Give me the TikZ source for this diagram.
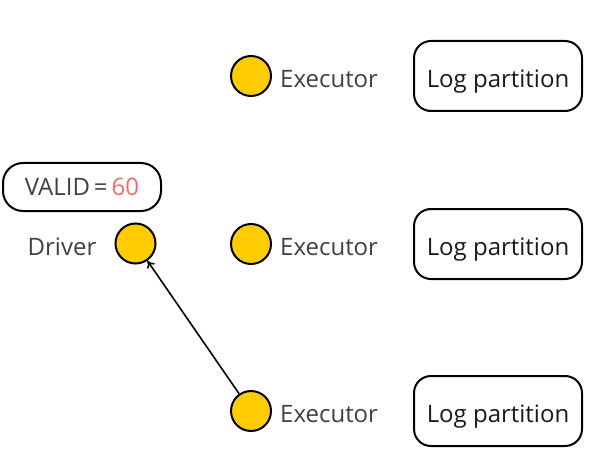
\documentclass[tikz,border=0pt]{standalone}
\usepackage{fontspec}
\setmainfont{Open Sans}
\usepackage{tikz}
\usetikzlibrary{positioning}
\usetikzlibrary{arrows.meta}
\definecolor{ydisk}{HTML}{FFCC00}
\definecolor{ytext}{HTML}{404040}
\definecolor{yvalue}{HTML}{F46A6A}

\begin{document}
\begin{tikzpicture}[
		x=1pt, y=-1pt,
		every node/.style = {
			font=\fontsize{24}{28}\selectfont,
			inner sep=0pt
		},
		proc/.style={circle, draw, line width=2pt, fill=ydisk, minimum size=40pt},
		tag/.style={text=ytext, anchor=west, text height=23pt, text depth=0pt},
		part/.style={rectangle, draw, rounded corners=17pt, line width=2pt, minimum width=168pt, minimum height=70pt, text height=23pt, text depth=0pt, text=black!90},
		msg/.style={-{To[length=7pt,width=9pt]}, line width=1.6pt}
		]
		\useasboundingbox (0,0) rectangle (601,462);
		% executors with their partitions
		\foreach \name/\y in {top/76, mid/244, low/411} {
			\node[proc] (exec-\name) at (251,\y) {};
			\node[tag, right=8pt of exec-\name] (label-\name) {Executor};
			\node[part] (part-\name) at (498,\y) {Log partition};
		}
		% driver
		\node[proc] (driver) at (135.5,243.5) {};
		\node[tag, anchor=east, left=18pt of driver] (label-driver) {Driver};
		\node[part, rounded corners=20pt, minimum width=158pt, minimum height=48pt, text height=18pt, text=ytext] (valid) at (82,187) {VALID\,=\,\textcolor{yvalue}{60}};
		\draw[msg] (exec-low) -- (driver);
	\end{tikzpicture}
\end{document}
